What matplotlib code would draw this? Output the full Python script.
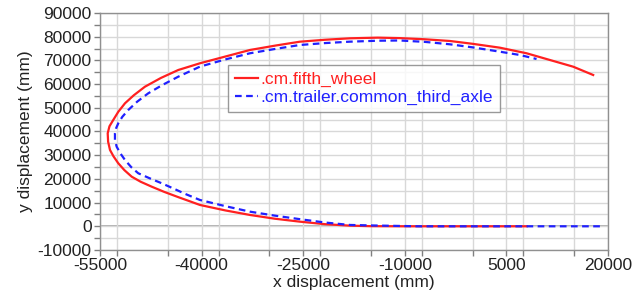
import matplotlib
matplotlib.use("Agg")
import matplotlib.pyplot as plt
from matplotlib.ticker import MultipleLocator, FixedLocator

plt.rcParams['font.family'] = ['Liberation Sans', 'DejaVu Sans']
plt.rcParams['axes.unicode_minus'] = False

# .cm.fifth_wheel trajectory (x, y in mm)
fw_x = [8000, -10000, -15000, -18100, -21800, -25480, -29200, -32860, -36500, -40240,
        -43440, -45500, -47370, -49000, -50320, -51400, -52300, -53000, -53520, -53800,
        -53860, -53600, -53040, -52300, -51310, -50000, -48360, -46000, -43440, -40240,
        -36500, -32860, -29000, -25480, -21800, -18100, -14000, -10720, -7000, -3340,
        0, 4040, 7980, 11420, 14860, 17810]
fw_y = [0, 0, 50, 270, 900, 1950, 3200, 4780, 6700, 9000,
        12300, 14500, 16720, 18800, 20940, 23700, 26590, 29500, 32200, 35700,
        39250, 42200, 44860, 48300, 51900, 55300, 58900, 62600, 65950, 68780,
        71620, 74390, 76300, 77890, 78700, 79320, 79600, 79400, 78900, 78190,
        77000, 75360, 73000, 70170, 67340, 63840]

# .cm.trailer.common_third_axle trajectory (x, y in mm)
ta_x = [18800, -8000, -10720, -14400, -18100, -21800, -25480, -29200, -32860, -36500,
        -40240, -42450, -44200, -45890, -47700, -49350, -50400, -51310, -52000, -52540,
        -52790, -52790, -52600, -52300, -51700, -50820, -49500, -47870, -45800, -43440,
        -40240, -36500, -32860, -29000, -25480, -21800, -18100, -14000, -10720, -7000,
        -3340, 0, 4040, 6990, 9450]
ta_y = [0, 0, 140, 330, 560, 1600, 3000, 4500, 6170, 8500,
        11100, 13700, 16000, 18150, 20300, 22370, 25000, 27980, 30800, 33600,
        36500, 39250, 41500, 43460, 46200, 49080, 52600, 56120, 59600, 63130,
        67370, 70400, 73000, 74900, 76500, 77300, 77900, 78300, 78400, 77800,
        76790, 75500, 73670, 72280, 70590]

x_major = [-55000, -40000, -25000, -10000, 5000, 20000]
y_major = [-10000, 0, 10000, 20000, 30000, 40000, 50000, 60000, 70000, 80000, 90000]

fig = plt.figure(figsize=(6.34, 3.0), dpi=100)
ax = fig.add_axes([0.1577, 0.1667, 0.8013, 0.79])

ax.set_xlim(-55000, 20000)
ax.set_ylim(-10000, 90000)
ax.xaxis.set_major_locator(FixedLocator(x_major))
ax.xaxis.set_minor_locator(MultipleLocator(7500))
ax.yaxis.set_major_locator(FixedLocator(y_major))
ax.yaxis.set_minor_locator(MultipleLocator(5000))

ax.grid(True, which='both', color='#d8d8d8', linewidth=1.0, zorder=0)
ax.axhline(0, color='#a0a0a0', linewidth=1.2, zorder=1)

ax.plot(fw_x, fw_y, color='#ff2020', linewidth=1.6, label='.cm.fifth_wheel', zorder=3,
        solid_joinstyle='round')
ax.plot(ta_x, ta_y, color='#2020ff', linewidth=1.6, linestyle=(0, (3, 2)),
        label='.cm.trailer.common_third_axle', zorder=4)

for s in ax.spines.values():
    s.set_color('#909090')
    s.set_linewidth(1.0)

ax.tick_params(which='both', direction='out', length=4, color='#808080', width=1)
ax.tick_params(which='major', labelsize=12.5, labelcolor='#222222', pad=2)

ax.set_xlabel('x displacement (mm)', fontsize=12.5, color='#222222', labelpad=1)
ax.set_ylabel('y displacement (mm)', fontsize=12.5, color='#222222', labelpad=3)

leg = ax.legend(loc='upper left', bbox_to_anchor=(0.252, 0.78), borderaxespad=0,
                fontsize=12.5, frameon=True, fancybox=False, handlelength=1.3,
                handletextpad=0.15, labelspacing=0.15, borderpad=0.4)
leg.get_frame().set_edgecolor('#808080')
leg.get_frame().set_linewidth(1.0)
for t, c in zip(leg.get_texts(), ['#ff2020', '#2020ff']):
    t.set_color(c)

fig.savefig('out.png', dpi=100)
